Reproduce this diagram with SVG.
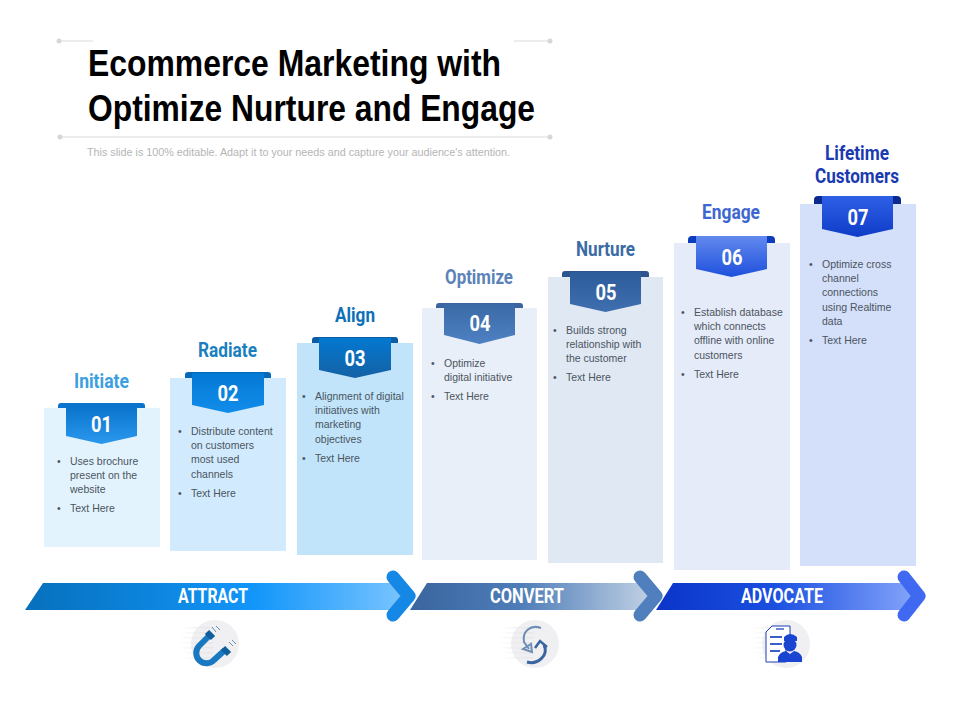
<svg xmlns="http://www.w3.org/2000/svg" width="960" height="720" viewBox="0 0 960 720">
<style>
text{font-family:"Liberation Sans",Arial,sans-serif}
.cond{font-family:Roboto,"Liberation Sans",sans-serif;font-weight:700}
.title{font-family:"Liberation Sans",Arial,sans-serif;font-weight:700;font-size:37.500px;fill:#000}
.sub{font-size:10.800px;fill:#b5b5b5}
.h{font-size:19.500px;text-anchor:middle}
.n{font-size:22.500px;fill:#fff;text-anchor:middle}
.b{font-size:10.500px;fill:#4a5560}
.band{font-size:21px;fill:#fff;text-anchor:middle}
.rule{stroke:#dcdcdc;stroke-width:1.2;fill:none}
.dot{fill:#d6d6d6}
.chev{fill:none;stroke-width:13;stroke-linecap:round;stroke-linejoin:round}
.disc{fill:#f0f0f2}
</style>
<defs>
<linearGradient id="r1" x1="0" y1="0" x2="0" y2="1"><stop offset="0" stop-color="#0a74cc"/><stop offset="1" stop-color="#2b98ee"/></linearGradient>
<linearGradient id="r2" x1="0" y1="0" x2="0" y2="1"><stop offset="0" stop-color="#0479d4"/><stop offset="1" stop-color="#118dea"/></linearGradient>
<linearGradient id="r3" x1="0" y1="0" x2="0" y2="1"><stop offset="0" stop-color="#0378d0"/><stop offset="1" stop-color="#1561a4"/></linearGradient>
<linearGradient id="r4" x1="0" y1="0" x2="0" y2="1"><stop offset="0" stop-color="#3a6aa6"/><stop offset="1" stop-color="#4f80c2"/></linearGradient>
<linearGradient id="r5" x1="0" y1="0" x2="0" y2="1"><stop offset="0" stop-color="#2c5c9a"/><stop offset="1" stop-color="#3f6fae"/></linearGradient>
<linearGradient id="r6" x1="0" y1="0" x2="0" y2="1"><stop offset="0" stop-color="#6289ee"/><stop offset="1" stop-color="#1e50dc"/></linearGradient>
<linearGradient id="r7" x1="0" y1="0" x2="0" y2="1"><stop offset="0" stop-color="#2f5fe6"/><stop offset="1" stop-color="#0e3cc8"/></linearGradient>
<linearGradient id="g1"><stop offset="0" stop-color="#0670bc"/><stop offset=".6" stop-color="#1296fa"/><stop offset="1" stop-color="#7cc5ff"/></linearGradient>
<linearGradient id="g2"><stop offset="0" stop-color="#3a659e"/><stop offset=".45" stop-color="#4e7db8"/><stop offset="1" stop-color="#c4d3e6"/></linearGradient>
<linearGradient id="g3"><stop offset="0" stop-color="#0a35c8"/><stop offset=".45" stop-color="#1a4fe0"/><stop offset="1" stop-color="#86a6fb"/></linearGradient>
<linearGradient id="fade"><stop offset="0" stop-color="#e6e6ea" stop-opacity="0"/><stop offset="1" stop-color="#e6e6ea"/></linearGradient>
<g id="speedlines">
<rect x="-36" y="-17" width="34" height="1.500" fill="url(#fade)"/><rect x="-34" y="-12" width="32" height="1.500" fill="url(#fade)"/><rect x="-37" y="-7" width="35" height="1.500" fill="url(#fade)"/><rect x="-35" y="-2" width="33" height="1.500" fill="url(#fade)"/><rect x="-37" y="3" width="35" height="1.500" fill="url(#fade)"/><rect x="-34" y="8" width="32" height="1.500" fill="url(#fade)"/><rect x="-32" y="13" width="30" height="1.500" fill="url(#fade)"/>
</g>
</defs>
<rect width="960" height="720" fill="#fff"/>

<g id="header">
<path class="rule" d="M59 41H93M514 41H550M60 137H550"/>
<circle class="dot" cx="59" cy="41" r="2.500"/><circle class="dot" cx="550" cy="41" r="2.500"/><circle class="dot" cx="60" cy="137" r="2.500"/><circle class="dot" cx="550" cy="137" r="2.500"/>
<text class="title" x="88" y="76" textLength="413" lengthAdjust="spacingAndGlyphs">Ecommerce Marketing with</text>
<text class="title" x="88" y="121" textLength="447" lengthAdjust="spacingAndGlyphs">Optimize Nurture and Engage</text>
<text class="sub" x="87" y="156" textLength="423" lengthAdjust="spacingAndGlyphs">This slide is 100% editable. Adapt it to your needs and capture your audience's attention.</text>
</g>

<g id="step1">
<rect x="44" y="408" width="116" height="139" fill="#e3f3fe"/>
<path d="M58 408v-2a3 3 0 0 1 3-3h81a3 3 0 0 1 3 3v2z" fill="#0a74cc"/>
<path d="M66 407H137V436L101.500 444L66 436Z" fill="url(#r1)"/>
<text class="cond h" x="101.500" y="388" fill="#3d9fe0" textLength="55" lengthAdjust="spacingAndGlyphs">Initiate</text>
<text class="cond n" x="101.500" y="432" textLength="21" lengthAdjust="spacingAndGlyphs">01</text>
<text class="b"><tspan x="57" y="465">•</tspan><tspan x="70" y="465">Uses brochure</tspan><tspan x="70" y="479">present on the</tspan><tspan x="70" y="493">website</tspan><tspan x="57" y="512">•</tspan><tspan x="70" y="512">Text Here</tspan></text>
</g>
<g id="step2">
<rect x="170" y="378" width="116" height="173" fill="#d2eafd"/>
<path d="M185 378v-3a3 3 0 0 1 3-3h80a3 3 0 0 1 3 3v3z" fill="#0668b8"/>
<path d="M192 373H264V405L228 413L192 405Z" fill="url(#r2)"/>
<text class="cond h" x="227.500" y="357" fill="#1a7fc0" textLength="59" lengthAdjust="spacingAndGlyphs">Radiate</text>
<text class="cond n" x="228" y="401" textLength="21" lengthAdjust="spacingAndGlyphs">02</text>
<text class="b"><tspan x="178" y="435">•</tspan><tspan x="191" y="435">Distribute content</tspan><tspan x="191" y="449">on customers</tspan><tspan x="191" y="463">most used</tspan><tspan x="191" y="478">channels</tspan><tspan x="178" y="497">•</tspan><tspan x="191" y="497">Text Here</tspan></text>
</g>
<g id="step3">
<rect x="297" y="343" width="116" height="212" fill="#c1e4fb"/>
<path d="M312 343v-3a3 3 0 0 1 3-3h80a3 3 0 0 1 3 3v3z" fill="#0a5ea6"/>
<path d="M319 338H391V370L355 378L319 370Z" fill="url(#r3)"/>
<text class="cond h" x="355" y="322" fill="#0c70b8" textLength="40" lengthAdjust="spacingAndGlyphs">Align</text>
<text class="cond n" x="355" y="366" textLength="21" lengthAdjust="spacingAndGlyphs">03</text>
<text class="b"><tspan x="302" y="400">•</tspan><tspan x="315" y="400">Alignment of digital</tspan><tspan x="315" y="414">initiatives with</tspan><tspan x="315" y="428">marketing</tspan><tspan x="315" y="443">objectives</tspan><tspan x="302" y="462">•</tspan><tspan x="315" y="462">Text Here</tspan></text>
</g>
<g id="step4">
<rect x="422" y="308" width="115" height="252" fill="#e9eff8"/>
<path d="M436 308v-2a3 3 0 0 1 3-3h81a3 3 0 0 1 3 3v2z" fill="#3a659e"/>
<path d="M444 304H515V335L479.500 344L444 335Z" fill="url(#r4)"/>
<text class="cond h" x="479" y="284" fill="#5b82b8" textLength="68" lengthAdjust="spacingAndGlyphs">Optimize</text>
<text class="cond n" x="480" y="331" textLength="21" lengthAdjust="spacingAndGlyphs">04</text>
<text class="b"><tspan x="431" y="367">•</tspan><tspan x="444" y="367">Optimize</tspan><tspan x="444" y="381">digital initiative</tspan><tspan x="431" y="400">•</tspan><tspan x="444" y="400">Text Here</tspan></text>
</g>
<g id="step5">
<rect x="548" y="277" width="115" height="286" fill="#e0e8f4"/>
<path d="M562 277v-3a3 3 0 0 1 3-3h81a3 3 0 0 1 3 3v3z" fill="#2c5590"/>
<path d="M570 272H641V304L605.500 312L570 304Z" fill="url(#r5)"/>
<text class="cond h" x="605.500" y="256" fill="#3b6ba5" textLength="59" lengthAdjust="spacingAndGlyphs">Nurture</text>
<text class="cond n" x="606" y="300" textLength="21" lengthAdjust="spacingAndGlyphs">05</text>
<text class="b"><tspan x="553" y="334">•</tspan><tspan x="566" y="334">Builds strong</tspan><tspan x="566" y="348">relationship with</tspan><tspan x="566" y="362">the customer</tspan><tspan x="553" y="381">•</tspan><tspan x="566" y="381">Text Here</tspan></text>
</g>
<g id="step6">
<rect x="674" y="243" width="116" height="327" fill="#e6ebf9"/>
<path d="M688 243v-3a4 4 0 0 1 4-4h79a4 4 0 0 1 4 4v3z" fill="#0d3bc0"/>
<path d="M696 236H767V269L731.500 277L696 269Z" fill="url(#r6)"/>
<text class="cond h" x="731" y="219" fill="#3d66d0" textLength="58" lengthAdjust="spacingAndGlyphs">Engage</text>
<text class="cond n" x="732" y="265" textLength="21" lengthAdjust="spacingAndGlyphs">06</text>
<text class="b"><tspan x="681" y="316">•</tspan><tspan x="694" y="316">Establish database</tspan><tspan x="694" y="330">which connects</tspan><tspan x="694" y="344">offline with online</tspan><tspan x="694" y="359">customers</tspan><tspan x="681" y="378">•</tspan><tspan x="694" y="378">Text Here</tspan></text>
</g>
<g id="step7">
<rect x="800" y="204" width="116" height="362" fill="#d4dffa"/>
<path d="M814 204v-4a4 4 0 0 1 4-4h79a4 4 0 0 1 4 4v4z" fill="#0a2a90"/>
<path d="M822 196H893V229L857.500 237L822 229Z" fill="url(#r7)"/>
<text class="cond h" x="857" y="160" fill="#1a3ab0" textLength="64" lengthAdjust="spacingAndGlyphs">Lifetime</text>
<text class="cond h" x="857" y="183" fill="#1a3ab0" textLength="84" lengthAdjust="spacingAndGlyphs">Customers</text>
<text class="cond n" x="858" y="225" textLength="21" lengthAdjust="spacingAndGlyphs">07</text>
<text class="b"><tspan x="809" y="268">•</tspan><tspan x="822" y="268">Optimize cross</tspan><tspan x="822" y="282">channel</tspan><tspan x="822" y="296">connections</tspan><tspan x="822" y="311">using Realtime</tspan><tspan x="822" y="325">data</tspan><tspan x="809" y="344">•</tspan><tspan x="822" y="344">Text Here</tspan></text>
</g>

<g id="connectors">
<path d="M43 583H402L408 596L402 610H25Z" fill="url(#g1)"/>
<path class="chev" stroke="#1587e4" d="M393 577L409 596L393 615"/>
<path d="M427 583H650L655 596L650 610H410Z" fill="url(#g2)"/>
<path class="chev" stroke="#4f80bd" d="M640 577L656 596L640 615"/>
<path d="M673 583H912L917 596L912 610H656Z" fill="url(#g3)"/>
<path class="chev" stroke="#3e69f0" d="M904 577L919 596L904 615"/>
<text class="cond band" x="213" y="603" textLength="70" lengthAdjust="spacingAndGlyphs">ATTRACT</text>
<text class="cond band" x="527" y="603" textLength="74" lengthAdjust="spacingAndGlyphs">CONVERT</text>
<text class="cond band" x="782" y="603" textLength="82" lengthAdjust="spacingAndGlyphs">ADVOCATE</text>
</g>

<g id="icon-attract">
<circle class="disc" cx="215" cy="644" r="24"/>
<use href="#speedlines" x="215" y="644"/>
<path d="M209 636L199 646A10 10 0 0 0 214 660L225 650" fill="none" stroke="#1878c0" stroke-width="6"/>
<path d="M207 632L213 638M223 648L229 654" stroke="#0f5f9c" stroke-width="6" fill="none"/>
<path d="M212 627L216 632M216 626L220 630M229 642L233 646M232 640L236 644" stroke="#6b8cab" stroke-width="1" fill="none"/>
</g>
<g id="icon-convert">
<circle class="disc" cx="535" cy="644" r="24"/>
<use href="#speedlines" x="535" y="644"/>
<path d="M541 628C530 624 522 632 524 642L529 649M523 649L531 644L532 652Z" fill="none" stroke="#6f8fb5" stroke-width="2"/>
<path d="M527 662C538 665 549 655 544 645" fill="none" stroke="#3a659e" stroke-width="3"/>
<path d="M535 648L540 641L547 647" fill="none" stroke="#3a659e" stroke-width="2.500"/>
</g>
<g id="icon-advocate">
<circle class="disc" cx="786" cy="644" r="24"/>
<use href="#speedlines" x="786" y="644"/>
<path d="M772 626H790V642H786V662H766V632Z" fill="#fff" stroke="#1a3fb8" stroke-width="1"/>
<path d="M770 637H782M770 644H782M770 651H780" stroke="#3a5fc8" stroke-width="2" fill="none"/>
<path d="M776 629H784" stroke="#3a5fc8" stroke-width="1.500"/>
<circle cx="790" cy="645" r="6.500" fill="#1a45d0"/>
<path d="M784 637Q790 631 797 637L797 641H784Z" fill="#1a45d0"/>
<path d="M778 662V657Q780 652 786 651L790 654L794 651Q800 652 802 657V662Z" fill="#1a45d0"/>
</g>
</svg>
